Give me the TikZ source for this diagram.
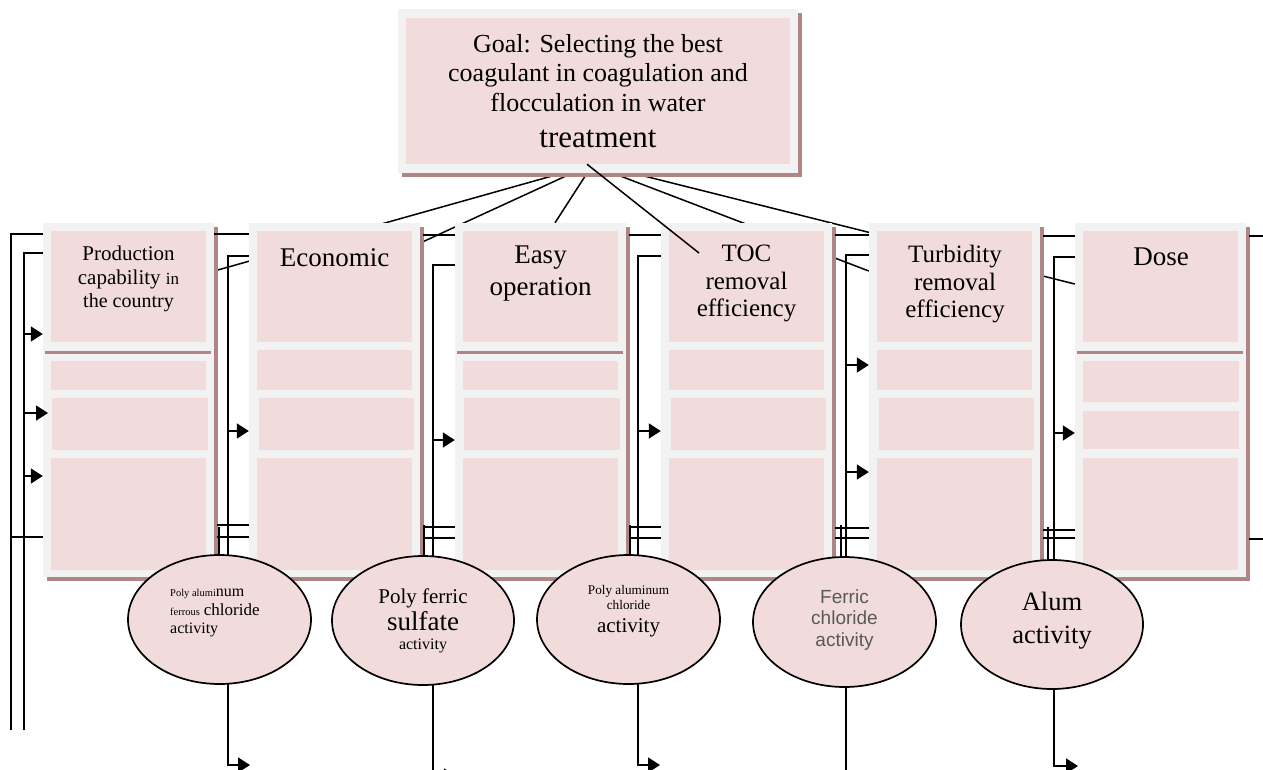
\documentclass[tikz,border=0pt]{standalone}
\usepackage{fontspec}
\setmainfont{Liberation Serif}
\newfontfamily\arialfont{Liberation Sans}
\usetikzlibrary{arrows.meta,shapes.geometric,shadows,backgrounds}
\definecolor{boxpink}{HTML}{F2DCDB}
\definecolor{boxgrey}{HTML}{F2F2F2}
\definecolor{shadowred}{HTML}{B08585}
\definecolor{ferricgrey}{HTML}{595959}
\newcommand{\fsz}[2]{\fontsize{#1}{#2}\selectfont}
% #1 node name, #2 left x of pink area, #3 variant
\newcommand{\critcol}[3]{%
  \node[frame] (#1) at (#2+77.5,400) {};
  \fill[boxpink] (#2,231) rectangle (#2+155,342);
  \ifnum#3=1
    \fill[boxpink] (#2,350) rectangle (#2+155,390);
    \fill[boxpink] (#2+2,398) rectangle (#2+157,450);
  \else
    \fill[shadowred] (#2-6,350.5) rectangle (#2+160,353.5);
    \ifnum#3=0
      \fill[boxpink] (#2,361) rectangle (#2+155,390);
      \fill[boxpink] (#2+1,398) rectangle (#2+157,450);
    \else
      \fill[boxpink] (#2,361) rectangle (#2+156,402);
      \fill[boxpink] (#2,411) rectangle (#2+156,449);
    \fi
  \fi
  \fill[boxpink] (#2,458) rectangle (#2+155,570);
}
\begin{document}
\lineskiplimit=-1000pt
\begin{tikzpicture}[x=1pt,y=-1pt,
  conn/.style={line width=1.7pt,draw=black},
  arr/.style={conn,-{Triangle[length=12pt,width=15pt]}},
  frame/.style={rectangle,fill=boxgrey,inner sep=0pt,minimum width=171pt,minimum height=354pt,
     drop shadow={shadow xshift=4pt,shadow yshift=-4pt,fill=shadowred,opacity=1}},
  goalframe/.style={rectangle,fill=boxgrey,inner sep=0pt,minimum width=400pt,minimum height=164pt,
     drop shadow={shadow xshift=3.5pt,shadow yshift=-4pt,fill=shadowred,opacity=1}},
  oval/.style={ellipse,draw=black,line width=1.7pt,fill=boxpink,inner sep=0pt},
  lbl/.style={inner sep=0pt,align=center,text=black},
]
\useasboundingbox (0,0) rectangle (1263,769);
\clip (0,0) rectangle (1263,769);

% ---------- boxes ----------
\node[goalframe] (goal) at (598,91) {};
\fill[boxpink] (406,18) rectangle (790,164);
\critcol{prod}{51}{0}
\critcol{econ}{257}{1}
\critcol{easy}{463}{0}
\critcol{toc}{669}{1}
\critcol{turb}{877}{1}
\critcol{dose}{1083}{2}

% ---------- lines from the goal, behind the boxes ----------
\begin{scope}[on background layer]
  \fill[white] (0,0) rectangle (1263,769);
  \draw[conn,line width=1.5pt] ([xshift=-36pt]goal.south) -- ([yshift=129pt]prod.east);
  \draw[conn,line width=1.5pt] ([xshift=-26pt]goal.south) -- ([yshift=157pt]econ.east);
  \draw[conn,line width=1.5pt] ([xshift=-11pt]goal.south) -- ([xshift=14.5pt]easy.north);
  \draw[conn,line width=1.5pt] ([xshift=15pt]goal.south) -- ([yshift=129pt]turb.west);
  \draw[conn,line width=1.5pt] ([xshift=35pt]goal.south) -- ([yshift=116pt]dose.west);
\end{scope}

% ---------- texts ----------
\node[lbl,anchor=north,font=\fsz{26}{29.5}] (goaltxt) at (598,34)
  {Goal: Selecting the best\\coagulant in coagulation and\\flocculation in water\\[6.5pt]{\fsz{31}{29.5}treatment}};
\node[lbl,anchor=north,font=\fsz{21}{23.5}] (prodtxt) at (128.5,246)
  {Production\\capability {\fsz{17}{23.5}in}\\{\fsz{20}{23.5}the country}};
\node[lbl,anchor=north,font=\fsz{27}{32}] (econtxt) at (334.5,248) {Economic};
\node[lbl,anchor=north,font=\fsz{27}{32}] (easytxt) at (540.5,246) {Easy\\operation};
\node[lbl,anchor=north,font=\fsz{25}{27.5}] (toctxt) at (746.5,245) {TOC\\removal\\efficiency};
\node[lbl,anchor=north,font=\fsz{25}{27.5}] (turbtxt) at (955,245) {Turbidity\\removal\\efficiency};
\node[lbl,anchor=north,font=\fsz{27}{32}] (dosetxt) at (1161,248) {Dose};

% ---------- connectors between the columns ----------
% left of Production
\draw[conn] (11,730) -- (11,234) -- (prod.west |- 0,234);
\draw[conn] (24,730) -- (24,253) -- (prod.west |- 0,253);
\draw[arr] (24,334) -- (prod.west |- 0,334);
\draw[arr] (24,413) -- (48,413);
\draw[arr] (24,476) -- (prod.west |- 0,476);
\draw[conn] (11,537) -- (prod.west |- 0,537);
% Production - Economic
\draw[conn] (prod.east |- 0,234) -- (econ.west |- 0,234);
\draw[arr] (econ.west |- 0,256) -- (228,256) -- (228,765) -- (250,765);
\draw[arr] (228,431) -- (econ.west |- 0,431);
\draw[conn] (217,525) -- (econ.west |- 0,525);
\draw[conn] (217,537) -- (econ.west |- 0,537);
\draw[conn] (219,527) -- (219,565);
% Economic - Easy
\draw[conn] (423,235) -- (easy.west |- 0,235);
\draw[arr] (easy.west |- 0,265) -- (433,265) -- (433,776) -- (456,776);
\draw[arr] (433,440) -- (easy.west |- 0,440);
\draw[conn] (423,527) -- (easy.west |- 0,527);
\draw[conn] (423,538) -- (easy.west |- 0,538);
\draw[conn] (424,525) -- (424,565);
% Easy - TOC
\draw[conn] (629,235) -- (toc.west |- 0,235);
\draw[arr] (toc.west |- 0,256) -- (638,256) -- (638,765) -- (660,765);
\draw[arr] (638,431) -- (toc.west |- 0,431);
\draw[conn] (629,527) -- (toc.west |- 0,527);
\draw[conn] (629,538) -- (toc.west |- 0,538);
\draw[conn] (630,525) -- (630,565);
% TOC - Turbidity
\draw[conn] (835,235) -- (turb.west |- 0,235);
\draw[conn] (turb.west |- 0,255) -- (846,255) -- (846,775);
\draw[arr] (846,365) -- (turb.west |- 0,365);
\draw[arr] (846,472) -- (turb.west |- 0,472);
\draw[conn] (835,528) -- (turb.west |- 0,528);
\draw[conn] (835,538) -- (turb.west |- 0,538);
\draw[conn] (841,525) -- (841,565);
% Turbidity - Dose
\draw[conn] (1043,236) -- (dose.west |- 0,236);
\draw[arr] (dose.west |- 0,257) -- (1054,257) -- (1054,766) -- (1078,766);
\draw[arr] (1054,433) -- (dose.west |- 0,433);
\draw[conn] (1043,530) -- (dose.west |- 0,530);
\draw[conn] (1043,538) -- (dose.west |- 0,538);
\draw[conn] (1048,527) -- (1048,565);
% right of Dose
\draw[conn] (1249,236) -- (1263,236);
\draw[conn] (1249,539) -- (1263,539);

% ---------- alternatives ----------
\node[oval,minimum width=183pt,minimum height=129pt] (e1) at (219.5,619.5) {};
\node[oval,minimum width=182pt,minimum height=129pt] (e2) at (423,620.5) {};
\node[oval,minimum width=183pt,minimum height=129pt] (e3) at (628.5,619.5) {};
\node[oval,minimum width=183pt,minimum height=130pt] (e4) at (844.5,622) {};
\node[oval,minimum width=182pt,minimum height=129pt] (e5) at (1052,624.5) {};

\node[lbl,anchor=north west,align=left,font=\fsz{16}{18.5}] (e1t) at (170,589)
  {{\fsz{10.5}{18.5}Poly alumi}num\\{\fsz{10.5}{18.5}ferrous} {\fsz{17}{18.5}chloride}\\activity};
\node[lbl,anchor=north,font=\fsz{16}{19}] (e2t) at (423,589)
  {{\fsz{21}{19}Poly ferric}\\[8pt]{\fsz{27}{19}sulfate}\\activity};
\node[lbl,anchor=north,font=\fsz{13.2}{15}] (e3t) at (628.5,585)
  {Poly aluminum\\chloride\\[8pt]{\fsz{21}{15}activity}};
\node[lbl,anchor=north,font=\arialfont\fsz{19}{21.5},text=ferricgrey] (e4t) at (844.5,589.5)
  {Ferric\\chloride\\activity};
\node[lbl,anchor=north,font=\fsz{26.5}{33}] (e5t) at (1052,592) {Alum\\activity};

% ---------- goal to TOC, drawn over the boxes ----------
\coordinate (tocin) at (699,253);
\draw[conn,line width=1.5pt] ([xshift=-11pt,yshift=9pt]goal.south) -- (tocin);
\end{tikzpicture}
\end{document}
